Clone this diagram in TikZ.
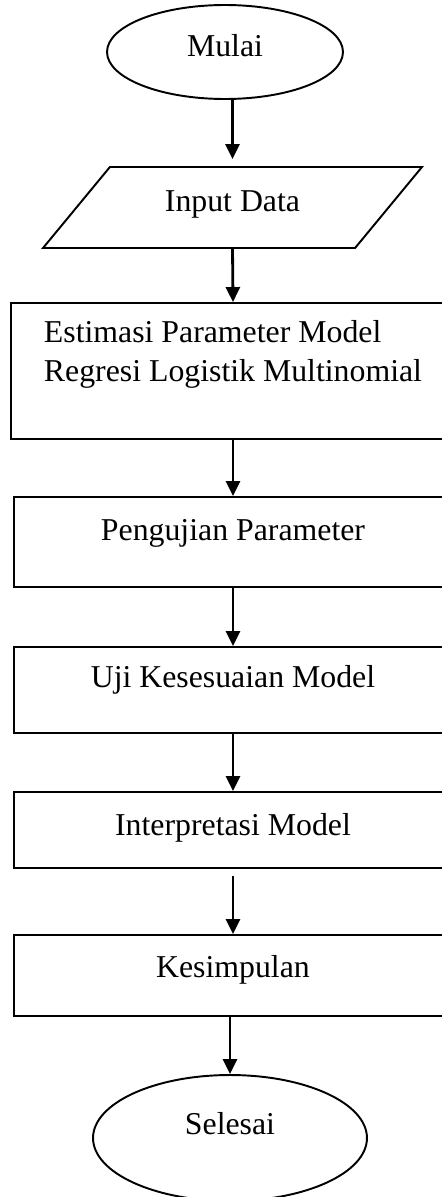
\documentclass[tikz,border=0pt]{standalone}
\usepackage{fontspec}
\setmainfont{Liberation Serif}
\usetikzlibrary{shapes.geometric, arrows.meta}

\begin{document}
\begin{tikzpicture}[x=0.02cm, y=-0.02cm,
  every node/.style={font=\fontsize{18.1}{22.2}\selectfont, line width=1.1pt},
  box/.style={draw, rectangle, minimum width=8.76cm, text height=0.5cm},
  term/.style={draw, ellipse, text height=0.5cm},
  io/.style={draw, trapezium, trapezium left angle=47, trapezium right angle=133,
    trapezium stretches body, minimum width=7.58cm, minimum height=1.62cm},
  arr/.style={-{Triangle[width=0.28cm, length=0.3cm]}, line width=1.6pt}
]
  \useasboundingbox (0,0) rectangle (441,1197);

  \node[term, minimum width=4.72cm, minimum height=1.88cm, text depth=0.32cm] (mulai) at (225,52) {Mulai};
  \node[io, text height=0.68cm, text depth=0.52cm] (input) at (232.5,207.5) {Input Data};
  \node[box, minimum width=8.88cm, minimum height=2.72cm, text height=1.28cm, text depth=0.85cm, align=left, inner sep=2pt] (estimasi) at (233,371)
    {Estimasi Parameter Model\\Regresi Logistik Multinomial};
  \node[box, minimum height=1.8cm, text depth=0.56cm] (pengujian) at (233,542) {Pengujian Parameter};
  \node[box, minimum height=1.72cm, text depth=0.62cm] (uji) at (233,690) {Uji Kesesuaian Model};
  \node[box, minimum height=1.52cm, text depth=0.28cm] (interpretasi) at (233,830) {Interpretasi Model};
  \node[box, minimum height=1.62cm, text depth=0.42cm] (kesimpulan) at (233,975.5) {Kesimpulan};
  \node[term, minimum width=5.48cm, minimum height=2.52cm, text depth=0.66cm] (selesai) at (230,1138) {Selesai};

  % alur
  \draw[arr, shorten >=0.14cm] (mulai.south -| input.north) -- (input.north);
  \draw[arr] (input.south) -- (estimasi.north);
  \draw[arr] (estimasi.south) -- (pengujian.north);
  \draw[arr] (pengujian.south) -- (uji.north);
  \draw[arr] (uji.south) -- (interpretasi.north);
  \draw[arr, shorten <=0.14cm] (interpretasi.south) -- (kesimpulan.north);
  \draw[arr] (selesai.north |- kesimpulan.south) -- (selesai.north);
\end{tikzpicture}
\end{document}
